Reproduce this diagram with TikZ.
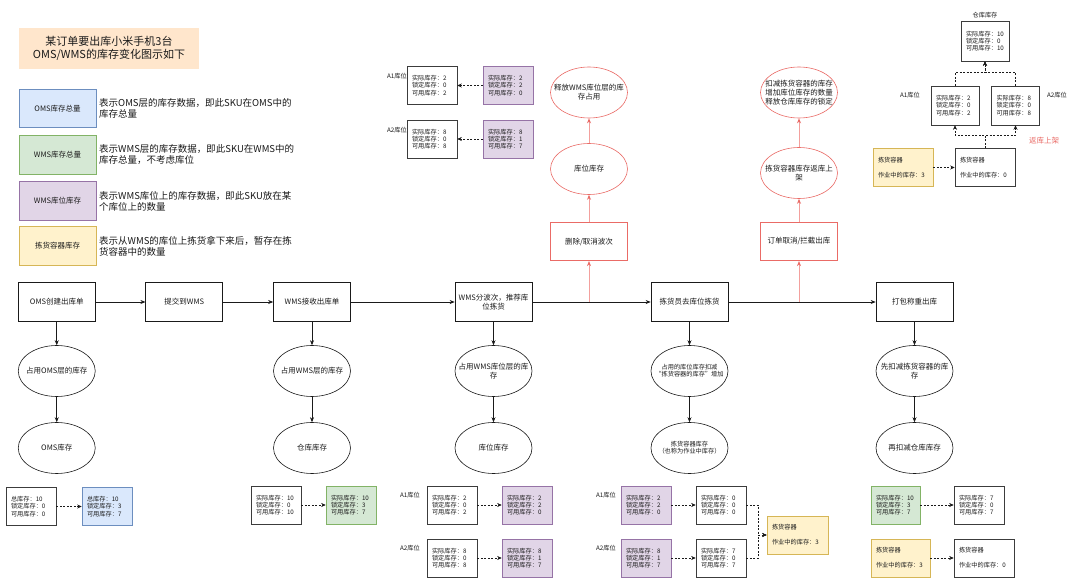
\documentclass[tikz,border=0pt]{standalone}
\usepackage{fontspec}
\setmainfont{Noto Sans CJK SC}
\usetikzlibrary{shapes.geometric,arrows.meta}
\definecolor{peachf}{HTML}{FFE6CC}
\definecolor{bluef}{HTML}{DAE8FC}\definecolor{blued}{HTML}{6C8EBF}
\definecolor{greenf}{HTML}{D5E8D4}\definecolor{greend}{HTML}{82B366}
\definecolor{purplef}{HTML}{E1D5E7}\definecolor{purpled}{HTML}{9673A6}
\definecolor{yellowf}{HTML}{FFF2CC}\definecolor{yellowd}{HTML}{D6B656}
\definecolor{redd}{HTML}{EA6B66}
\definecolor{redl}{HTML}{F3A09D}
\definecolor{ink}{HTML}{1A1A1A}
\newcommand{\fA}{\fontsize{7.5pt}{9pt}\selectfont}
\newcommand{\fB}{\fontsize{6.2pt}{7.2pt}\selectfont}
\newcommand{\fL}{\fontsize{9.5pt}{11pt}\selectfont}
\newcommand{\fT}{\fontsize{11pt}{13.3pt}\selectfont}
\newcommand{\stk}[3]{实际库存：#1\\锁定库存：#2\\可用库存：#3}
\newcommand{\tstk}[3]{总库存：#1\\锁定库存：#2\\可用库存：#3}
\newcommand{\jhrq}[1]{拣货容器\\[7.8pt]作业中的库存：#1}
\begin{document}
\begin{tikzpicture}[x=1pt,y=-1pt,
  every node/.style={text=ink},
  mbox/.style={rectangle,draw=ink,line width=0.7pt,minimum width=77pt,minimum height=38.5pt,inner sep=0pt,align=center,font=\fA},
  mell/.style={ellipse,draw=ink,line width=0.6pt,minimum width=77pt,minimum height=51pt,inner sep=0pt},
  rbox/.style={mbox,draw=redd},
  rell/.style={mell,draw=redd},
  etxt/.style={inner sep=0pt,align=center,font=\fA},
  stxt/.style={inner sep=0pt,align=center,font=\fB},
  dbox/.style={rectangle,draw=ink!85,line width=0.6pt,minimum height=38pt,text width=40pt,inner xsep=5pt,inner ysep=0pt,align=left,font=\fB},
  wbox/.style={dbox,text width=50pt},
  nbox/.style={dbox,text width=38pt,minimum height=39pt},
  lgbox/.style={rectangle,line width=0.7pt,minimum width=77pt,minimum height=38.5pt,inner sep=0pt,font=\fA},
  lgtxt/.style={anchor=west,inner sep=0pt,align=left,font=\fL},
  albl/.style={inner sep=0pt,font=\fB},
  arr/.style={draw=ink,line width=0.6pt,-{Stealth[length=5pt,width=4pt]}},
  rarr/.style={draw=redl,line width=0.9pt,-{Stealth[length=5pt,width=4pt,color=redd]}},
  darr/.style={draw=ink,line width=0.6pt,dash pattern=on 2pt off 1.5pt,-{Stealth[length=4.5pt,width=4pt]}}
]
\useasboundingbox (0,0) rectangle (1080,585);
\fill[white] (0,0) rectangle (1080,585);

% title
\node[fill=peachf,minimum width=180pt,minimum height=41pt,inner sep=0pt,align=center,font=\fT] (title) at (109,48.5) {某订单要出库小米手机3台\\OMS/WMS的库存变化图示如下};

% legend
\node[lgbox,fill=bluef,draw=blued] (lg1) at (57.5,108.5) {OMS库存总量};
\node[lgbox,fill=greenf,draw=greend] (lg2) at (57.5,155) {WMS库存总量};
\node[lgbox,fill=purplef,draw=purpled] (lg3) at (57.5,201) {WMS库位库存};
\node[lgbox,fill=yellowf,draw=yellowd] (lg4) at (57.5,246) {拣货容器库存};
\node[lgtxt] (lt1) at (99,108.5) {表示OMS层的库存数据，即此SKU在OMS中的\\库存总量};
\node[lgtxt] (lt2) at (99,155) {表示WMS层的库存数据，即此SKU在WMS中的\\库存总量，不考虑库位};
\node[lgtxt] (lt3) at (99,201) {表示WMS库位上的库存数据，即此SKU放在某\\个库位上的数量};
\node[lgtxt] (lt4) at (99,246) {表示从WMS的库位上拣货拿下来后，暂存在拣\\货容器中的数量};

% main row
\node[mbox] (b1) at (56.75,302) {OMS创建出库单};
\node[mbox] (b2) at (184.25,302) {提交到WMS};
\node[mbox] (b3) at (312,302) {WMS接收出库单};
\node[mbox] (b4) at (493.5,302) {WMS分波次，推荐库\\位拣货};
\node[mbox] (b5) at (689.5,302) {拣货员去库位拣货};
\node[mbox] (b6) at (914.5,302) {打包称重出库};

% red flow 1
\coordinate (rj1) at (589,302);
\node[rbox] (rb1) at (589,241.5) {删除/取消波次};
\node[rell] (re1a) at (589,169) {};
\node[etxt] (re1at) at (re1a) {库位库存};
\node[rell] (re1b) at (589,92.5) {};
\node[etxt] (re1bt) at (re1b) {释放WMS库位层的库\\存占用};
\draw[rarr] (rj1) -- (rb1);
\draw[rarr] (rb1) -- (re1a);
\draw[rarr] (re1a) -- (re1b);

% red flow 2
\coordinate (rj2) at (799,302);
\node[rbox] (rb2) at (799,241.5) {订单取消/拦截出库};
\node[rell] (re2a) at (799,173) {};
\node[etxt] (re2at) at (re2a) {拣货容器库存返库上\\架};
\node[rell] (re2b) at (799,92.5) {};
\node[etxt] (re2bt) at (re2b) {扣减拣货容器的库存\\增加库位库存的数量\\释放仓库库存的锁定};
\draw[rarr] (rj2) -- (rb2);
\draw[rarr] (rb2) -- (re2a);
\draw[rarr] (re2a) -- (re2b);

\draw[arr] (b1) -- (b2);
\draw[arr] (b2) -- (b3);
\draw[arr] (b3) -- (b4);
\draw[arr] (b4) -- (b5);
\draw[arr] (b5) -- (b6);

% ellipses
\node[mell] (e1a) at (56.75,371) {};
\node[etxt] (e1at) at (e1a) {占用OMS层的库存};
\node[mell] (e1b) at (56.75,448) {};
\node[etxt] (e1bt) at (e1b) {OMS库存};
\node[mell] (e3a) at (312,371) {};
\node[etxt] (e3at) at (e3a) {占用WMS层的库存};
\node[mell] (e3b) at (312,448) {};
\node[etxt] (e3bt) at (e3b) {仓库库存};
\node[mell] (e4a) at (493.5,371) {};
\node[etxt] (e4at) at (e4a) {占用WMS库位层的库\\存};
\node[mell] (e4b) at (493.5,448) {};
\node[etxt] (e4bt) at (e4b) {库位库存};
\node[mell] (e5a) at (689.5,371) {};
\node[stxt] (e5at) at (e5a) {占用的库位库存扣减\\“拣货容器的库存”增加};
\node[mell] (e5b) at (689.5,448) {};
\node[stxt] (e5bt) at (e5b) {拣货容器库存\\（也称为作业中库存）};
\node[mell] (e6a) at (914.5,371) {};
\node[etxt] (e6at) at (e6a) {先扣减拣货容器的库\\存};
\node[mell] (e6b) at (914.5,448) {};
\node[etxt] (e6bt) at (e6b) {再扣减仓库库存};
\foreach \c in {1,3,4,5,6}{
  \draw[arr] (b\c) -- (e\c a);
  \draw[arr] (e\c a) -- (e\c b);
}

% bottom: OMS
\node[dbox] (o1) at (31,506.5) {\tstk{10}{0}{0}};
\node[dbox,fill=bluef,draw=blued] (o2) at (107,506.5) {\tstk{10}{3}{7}};
\draw[darr] (o1) -- (o2);
% bottom: WMS
\node[dbox] (w1) at (276,505) {\stk{10}{0}{10}};
\node[dbox,fill=greenf,draw=greend] (w2) at (351,505) {\stk{10}{3}{7}};
\draw[darr] (w1) -- (w2);
% bottom: bins
\node[albl] (pl1) at (410,495) {A1库位};
\node[albl] (pl2) at (410,548) {A2库位};
\node[dbox] (p1) at (452,505) {\stk{2}{0}{2}};
\node[dbox,fill=purplef,draw=purpled] (p2) at (527,505) {\stk{2}{2}{0}};
\node[dbox] (p3) at (452,558) {\stk{8}{0}{8}};
\node[dbox,fill=purplef,draw=purpled] (p4) at (527,558) {\stk{8}{1}{7}};
\draw[darr] (p1) -- (p2);
\draw[darr] (p3) -- (p4);
% bottom: picking
\node[albl] (ql1) at (606,495) {A1库位};
\node[albl] (ql2) at (606,548) {A2库位};
\node[dbox,fill=purplef,draw=purpled] (q1) at (646,505) {\stk{2}{2}{0}};
\node[dbox] (q2) at (721,505) {\stk{0}{0}{0}};
\node[dbox,fill=purplef,draw=purpled] (q3) at (646,558) {\stk{8}{1}{7}};
\node[dbox] (q4) at (721,558) {\stk{7}{0}{7}};
\node[wbox,fill=yellowf,draw=yellowd,text width=51pt] (qy) at (797.5,535) {\jhrq{3}};
\draw[darr] (q1) -- (q2);
\draw[darr] (q3) -- (q4);
\draw[darr] (q2.east) -- ++(12,0) |- (qy.west);
\draw[darr] (q4.east) -- ++(12,0) |- (qy.west);
% bottom: packing
\node[dbox,fill=greenf,draw=greend,text width=39pt] (s1) at (895.5,505) {\stk{10}{3}{7}};
\node[dbox] (s2) at (979,505) {\stk{7}{0}{7}};
\node[wbox,fill=yellowf,draw=yellowd,text width=49pt] (s3) at (900.5,558) {\jhrq{3}};
\node[wbox] (s4) at (984,558) {\jhrq{0}};
\draw[darr] (s1) -- (s2);
\draw[darr] (s3) -- (s4);

% top middle
\node[albl] (ml1) at (397,76) {A1库位};
\node[albl] (ml2) at (397,130) {A2库位};
\node[dbox] (m1) at (432,85.5) {\stk{2}{0}{2}};
\node[dbox,fill=purplef,draw=purpled] (m2) at (508,85.5) {\stk{2}{2}{0}};
\node[dbox] (m3) at (432,139) {\stk{8}{0}{8}};
\node[dbox,fill=purplef,draw=purpled] (m4) at (508,139) {\stk{8}{1}{7}};
\draw[darr] (m2) -- (m1);
\draw[darr] (m4) -- (m3);

% top right
\node[albl] (tl0) at (985,15) {仓库库存};
\node[albl] (tl1) at (910,95) {A1库位};
\node[albl] (tl2) at (1057,95) {A2库位};
\node[inner sep=0pt,font=\fA,text=redd] (tl3) at (1044,141) {返库上架};
\node[nbox,minimum height=40pt] (t0) at (985,41) {\stk{10}{0}{10}};
\node[nbox] (t1) at (955,105.5) {\stk{2}{0}{2}};
\node[nbox] (t2) at (1015.5,105.5) {\stk{8}{0}{8}};
\node[wbox,fill=yellowf,draw=yellowd] (ty) at (903,167.5) {\jhrq{3}};
\node[wbox] (tw) at (985,167.5) {\jhrq{0}};
\draw[darr] (ty) -- (tw);
\draw[darr] (tw.north) -- ++(0,-13) -| (t1.south);
\draw[darr] (tw.north) -- ++(0,-13) -| (t2.south);
\draw[darr] (t1.north) -- ++(0,-13) -| (t0.south);
\draw[darr] (t2.north) -- ++(0,-13) -| (t0.south);
\end{tikzpicture}
\end{document}
